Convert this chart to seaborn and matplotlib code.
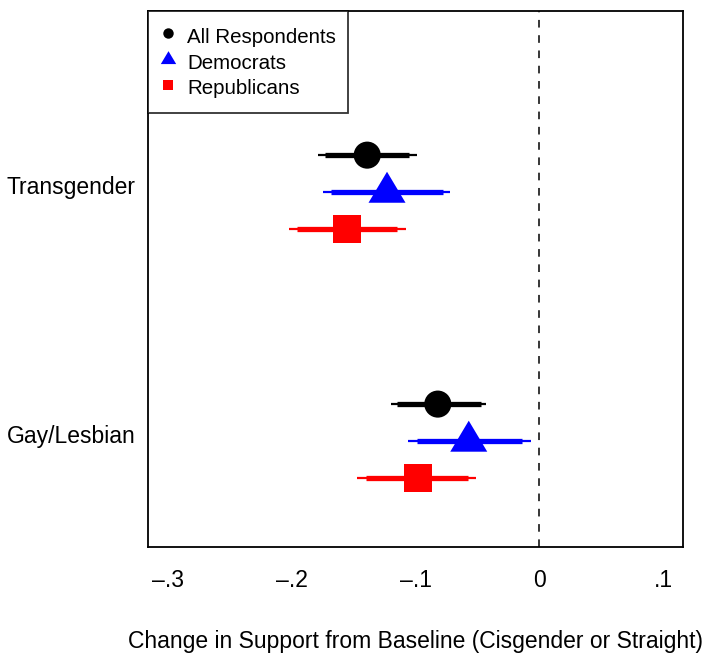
import numpy as np
import pandas as pd
import matplotlib
matplotlib.use("Agg")
import matplotlib.pyplot as plt
from matplotlib.lines import Line2D
import seaborn as sns

# data
categories = ["Transgender", "Gay/Lesbian"]
cat_pos = [2, 1]
groups = ["All Respondents", "Democrats", "Republicans"]
group_offset = [0.12, -0.027, -0.178]
colors = ["black", "blue", "red"]

est_trans = [-0.139, -0.123, -0.155]
est_gay = [-0.082, -0.057, -0.098]
# 95% intervals (thin lines)
lo95_trans = [-0.179, -0.175, -0.202]
hi95_trans = [-0.099, -0.072, -0.108]
lo95_gay = [-0.120, -0.106, -0.147]
hi95_gay = [-0.043, -0.007, -0.051]
# 90% intervals (thick lines)
lo90_trans = [-0.173, -0.168, -0.196]
hi90_trans = [-0.105, -0.078, -0.115]
lo90_gay = [-0.115, -0.099, -0.140]
hi90_gay = [-0.047, -0.014, -0.058]

xticks = [-0.3, -0.2, -0.1, 0.0, 0.1]
xticklabels = ["\u2013.3", "\u2013.2", "\u2013.1", "0", ".1"]

rows = []
for c, pos, est, l95, h95, l90, h90 in [
        (categories[0], cat_pos[0], est_trans, lo95_trans, hi95_trans, lo90_trans, hi90_trans),
        (categories[1], cat_pos[1], est_gay, lo95_gay, hi95_gay, lo90_gay, hi90_gay)]:
    for i, g in enumerate(groups):
        rows.append({"category": c, "group": g, "y": pos + group_offset[i],
                     "est": est[i], "lo95": l95[i], "hi95": h95[i],
                     "lo90": l90[i], "hi90": h90[i]})
df = pd.DataFrame(rows)

sns.set_style("white")
plt.rcParams["font.family"] = ["Liberation Sans", "DejaVu Sans"]
plt.rcParams["text.color"] = "black"
plt.rcParams["axes.labelcolor"] = "black"

fig = plt.figure(figsize=(7.05, 6.56), dpi=100)
ax = fig.add_axes([148 / 705, 109 / 656, 535 / 705, 536 / 656])

ax.axvline(0, color="black", lw=1.1, ls=(0, (5, 5)), zorder=1)

# triangle centred like R's pch 17 (point sits below the middle of the shape)
tri = [(-18.5, -11), (18.5, -11), (0, 20)]
markers = ["o", tri, "s"]
sizes = [380, 830, 400]

for i, g in enumerate(groups):
    d = df[df["group"] == g]
    ax.hlines(d["y"], d["lo95"], d["hi95"], color=colors[i], lw=1.6, zorder=2)
    ax.hlines(d["y"], d["lo90"], d["hi90"], color=colors[i], lw=3.8, zorder=3)
    sns.scatterplot(data=d, x="est", y="y", marker=markers[i], s=sizes[i],
                    color=colors[i], edgecolor="none", linewidth=0, zorder=4,
                    ax=ax, legend=False)

ax.set_xlim(-0.316, 0.116)
ax.set_ylim(0.546, 2.699)
ax.set_xticks(xticks)
ax.set_xticklabels(xticklabels, fontsize=16.5)
ax.set_yticks(cat_pos)
ax.set_yticklabels(categories, fontsize=16.5)
ax.tick_params(axis="x", direction="in", length=5, width=1.2, pad=16, colors="black")
ax.tick_params(axis="y", length=0, pad=9, colors="black")
ax.set_xlabel("Change in Support from Baseline (Cisgender or Straight)", fontsize=16.5,
              labelpad=27, color="black")
ax.set_ylabel("")
for s in ax.spines.values():
    s.set_color("black")
    s.set_linewidth(1.3)

handles = [Line2D([], [], ls="none", marker=markers[i], color=colors[i],
                  markersize=ms, markeredgewidth=0)
           for i, ms in enumerate([7.5, 12, 7])]
leg = ax.legend(handles, groups, loc="upper left", bbox_to_anchor=(0, 1),
                borderaxespad=0, fontsize=14.8, frameon=True, fancybox=False,
                handlelength=0.75, handleheight=1.55, handletextpad=0.55,
                labelspacing=0.0, borderpad=0.6, labelcolor="black")
leg.get_frame().set_edgecolor("black")
leg.get_frame().set_linewidth(1.3)

fig.savefig("out.png", dpi=100)
